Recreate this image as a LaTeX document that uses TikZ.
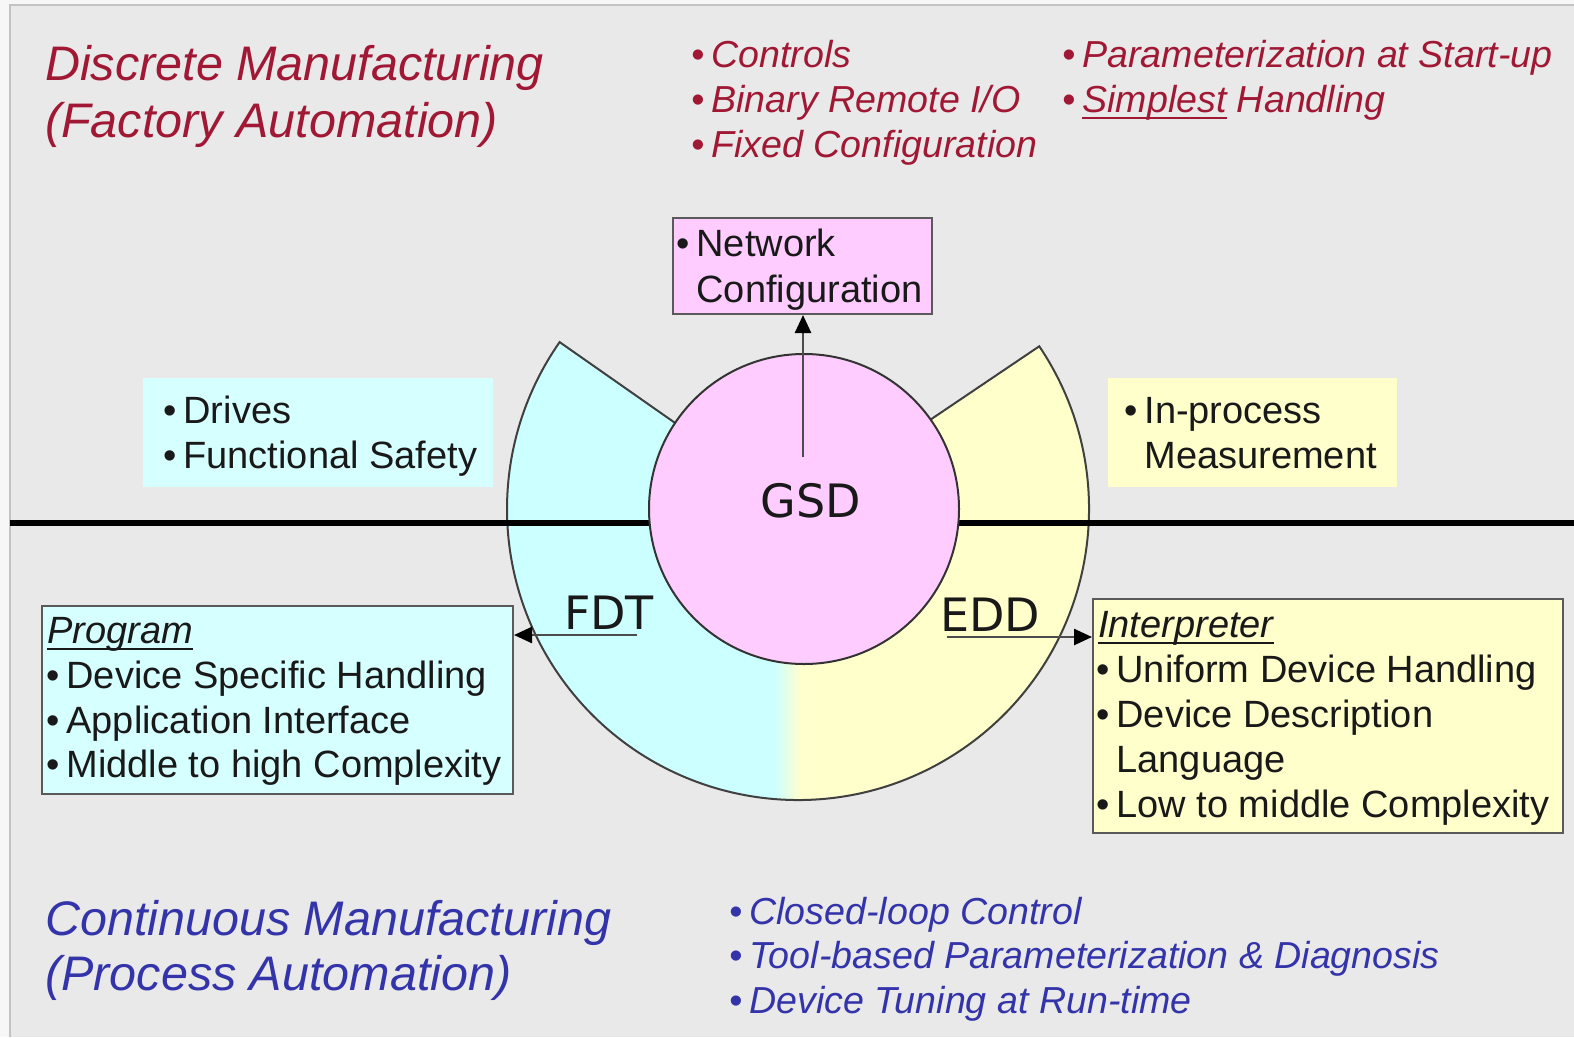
\documentclass[tikz,border=0pt]{standalone}
\usepackage{fontspec}
\setmainfont{Liberation Sans}
\newfontfamily\labfont{DejaVu Sans}
\usetikzlibrary{arrows.meta}
\definecolor{panel}{RGB}{233,233,233}
\definecolor{outerbg}{RGB}{247,247,247}
\definecolor{edgegrey}{RGB}{195,195,195}
\definecolor{cyanfill}{RGB}{204,255,255}
\definecolor{cyanbox}{RGB}{214,255,255}
\definecolor{yellowfill}{RGB}{255,255,204}
\definecolor{pinkfill}{RGB}{255,204,255}
\definecolor{redtext}{RGB}{160,24,52}
\definecolor{bluetext}{RGB}{52,52,170}
\definecolor{boxline}{RGB}{90,90,90}
\definecolor{ink}{RGB}{25,25,25}
\newcommand\bul{\textbullet\hspace{7pt}}
\newcommand\hang{\phantom{\textbullet}\hspace{7pt}}
\newcommand\ulword[1]{\setbox0\hbox{#1}\rlap{\rule[-7pt]{\wd0}{2pt}}\box0\relax}
\begin{document}
\begin{tikzpicture}[x=1pt,y=-1pt,
  txt/.style={anchor=base west, inner sep=0pt, text=ink, font=\fontsize{38}{45}\selectfont},
  redl/.style={anchor=base west, inner sep=0pt, text=redtext, font=\fontsize{37.6}{45}\selectfont\itshape},
  bluel/.style={anchor=base west, inner sep=0pt, text=bluetext, font=\fontsize{37.6}{45}\selectfont\itshape},
  redtitle/.style={anchor=base west, inner sep=0pt, text=redtext, font=\fontsize{48.5}{58}\selectfont\itshape},
  bluetitle/.style={anchor=base west, inner sep=0pt, text=bluetext, font=\fontsize{48.5}{58}\selectfont\itshape},
  lab/.style={anchor=base, inner sep=0pt, text=ink, font=\labfont\fontsize{46}{50}\selectfont},
  framebox/.style={draw=boxline, line width=2pt, anchor=north west, inner sep=0pt},
  plainbox/.style={anchor=north west, inner sep=0pt},
  arr/.style={draw=black!70, line width=2.5pt, -{Triangle[length=18pt,width=16pt,color=black]}},
]
\useasboundingbox (0,0) rectangle (1574,1037);
% background panel
\fill[outerbg] (0,0) rectangle (1574,1037);
\fill[panel] (10,5) rectangle (1574,1037);
\draw[edgegrey, line width=1.5pt] (10,1037) -- (10,5) -- (1574,5);

% annular sector
\coordinate (c) at (798,509);
\begin{scope}
\path[clip] ([shift={(-34:145)}]c) -- ([shift={(-34:291)}]c)
   arc[start angle=-34, end angle=215, radius=291]
   -- ([shift={(215:145)}]c) arc[start angle=215, end angle=-34, radius=145] -- cycle;
\fill[cyanfill] (480,300) rectangle (774,820);
\shade[left color=cyanfill, right color=yellowfill] (774,300) rectangle (801,820);
\fill[yellowfill] (801,300) rectangle (1120,820);
\end{scope}
\draw[black!75, line width=2pt] ([shift={(-34:145)}]c) -- ([shift={(-34:291)}]c)
   arc[start angle=-34, end angle=215, radius=291]
   -- ([shift={(215:145)}]c);

% divider
\draw[black, line width=6pt] (10,523) -- (1574,523);

% GSD circle
\node[circle, draw=black!80, line width=2pt, fill=pinkfill, minimum size=310pt, inner sep=0pt] (gsd) at (804,509) {};
\node[lab] (gsdlabel) at (811,517) {GSD};
\node[lab] (fdt) at (609,629) {FDT};
\node[lab] (edd) at (990,631) {EDD};

% boxes
\node[framebox, fill=pinkfill, minimum width=259pt, minimum height=96pt] (netbox) at (672,217) {};
\node[plainbox, fill=cyanbox, minimum width=350pt, minimum height=109pt] (drvbox) at (143,378) {};
\node[plainbox, fill=yellowfill, minimum width=289pt, minimum height=109pt] (inpbox) at (1108,378) {};
\node[framebox, fill=cyanbox, minimum width=471pt, minimum height=188pt] (progbox) at (41,605) {};
\node[framebox, fill=yellowfill, minimum width=470pt, minimum height=234pt] (intbox) at (1092,598) {};

% connectors
\coordinate (gsdsrc) at (803,457);
\draw[arr] (gsdsrc) -- (gsdsrc |- netbox.south);
\coordinate (fdtsrc) at (637,635);
\draw[arr] (fdtsrc) -- (fdtsrc -| progbox.east);
\coordinate (eddsrc) at (947,637);
\draw[arr] (eddsrc) -- (eddsrc -| intbox.west);

% box texts
\node[txt] (net1) at (676,256) {\bul Network};
\node[txt] (net2) at (676,302) {\hang Configuration};
\node[txt] (drv1) at (163,423) {\bul Drives};
\node[txt] (drv2) at (163,468) {\bul Functional Safety};
\node[txt] (inp1) at (1124,423) {\bul In-process};
\node[txt] (inp2) at (1124,468) {\hang Measurement};
\node[txt] (prog0) at (47,643) {\itshape\ulword{Program}};
\node[txt] (prog1) at (46,688) {\bul Device Specific Handling};
\node[txt] (prog2) at (46,733) {\bul Application Interface};
\node[txt] (prog3) at (46,777) {\bul Middle to high Complexity};
\node[txt] (int0) at (1098,637) {\itshape\ulword{Interpreter}};
\node[txt] (int1) at (1096,682) {\bul Uniform Device Handling};
\node[txt] (int2) at (1096,727) {\bul Device Description};
\node[txt] (int3) at (1096,772) {\hang Language};
\node[txt] (int4) at (1096,817) {\bul Low to middle Complexity};

% top texts
\node[redtitle] (rt1) at (45,80) {Discrete Manufacturing};
\node[redtitle] (rt2) at (45,137) {(Factory Automation)};
\node[redl] (ra1) at (691,67) {\bul Controls};
\node[redl] (ra2) at (691,112) {\bul Binary Remote I/O};
\node[redl] (ra3) at (691,157) {\bul Fixed Configuration};
\node[redl] (rb1) at (1062,67) {\bul Parameterization at Start-up};
\node[redl] (rb2) at (1062,112) {\bul \ulword{Simplest} Handling};

% bottom texts
\node[bluetitle] (bt1) at (45,935) {Continuous Manufacturing};
\node[bluetitle] (bt2) at (45,990) {(Process Automation)};
\node[bluel] (bl1) at (729,924) {\bul Closed-loop Control};
\node[bluel] (bl2) at (729,968) {\bul Tool-based Parameterization \& Diagnosis};
\node[bluel] (bl3) at (729,1013) {\bul Device Tuning at Run-time};
\end{tikzpicture}
\end{document}
